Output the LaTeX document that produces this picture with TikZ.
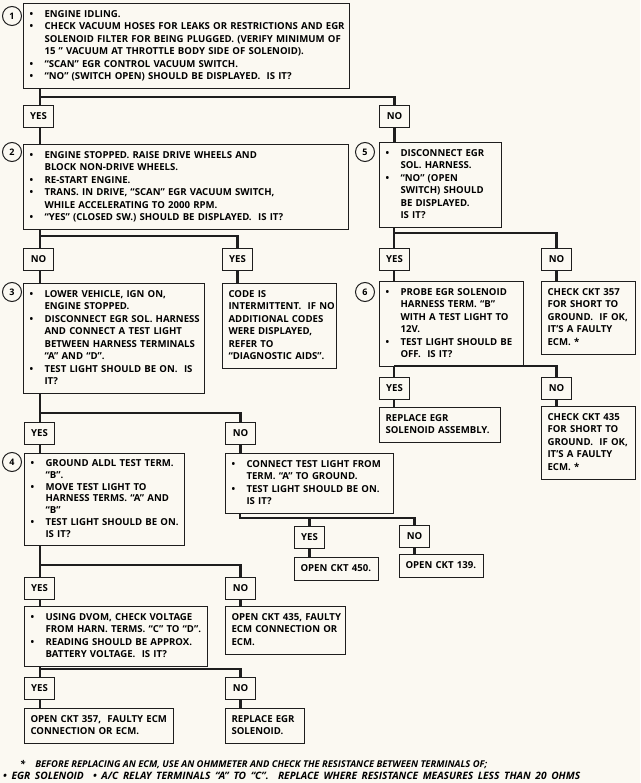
\documentclass[tikz,border=0pt]{standalone}
\usepackage{fontspec}
\setmainfont{Open Sans}
\usetikzlibrary{positioning}

\definecolor{ink}{HTML}{1E1E1E}
\definecolor{paper}{HTML}{FBF9F2}

% one printed line each: bullet line, indented line, plain line
\newcommand{\bl}[1]{\mbox{\strut\makebox[15pt][l]{\textbullet}#1}}
\newcommand{\il}[1]{\mbox{\strut\hspace*{15pt}#1}}
\newcommand{\pl}[1]{\mbox{\strut#1}}

\tikzstyle{stepbox} = [rectangle, draw=ink, line width=1.1pt, fill=paper, anchor=north west, inner xsep=6pt, inner ysep=5pt, align=left, font=\bfseries\fontsize{9.6}{12.5}\selectfont]
\tikzstyle{answer} = [rectangle, draw=ink, line width=1.1pt, fill=paper, anchor=north west, minimum width=30pt, minimum height=22pt, inner sep=0pt, font=\bfseries\fontsize{9.6}{12.5}\selectfont]
\tikzstyle{stepnum} = [circle, draw=ink, line width=1pt, fill=paper, minimum size=19pt, inner sep=0pt, font=\bfseries\fontsize{9}{11}\selectfont]
\tikzstyle{link} = [draw=ink, line width=2.6pt]
\tikzstyle{note} = [anchor=base west, inner sep=0pt, font=\bfseries\itshape\fontsize{9.4}{11}\selectfont]

\begin{document}
\begin{tikzpicture}[x=1pt, y=-1pt]
\fill[paper] (0,0) rectangle (640,783);
\useasboundingbox (0,0) rectangle (640,783);

% step 1
\node (idle) [stepbox, text width=314pt] at (23,3) {\bl{ENGINE IDLING.}\\
\bl{CHECK VACUUM HOSES FOR LEAKS OR RESTRICTIONS AND EGR}\\
\il{SOLENOID FILTER FOR BEING PLUGGED. (VERIFY MINIMUM OF}\\
\il{15 ” VACUUM AT THROTTLE BODY SIDE OF SOLENOID).}\\
\bl{“SCAN” EGR CONTROL VACUUM SWITCH.}\\
\bl{“NO” (SWITCH OPEN) SHOULD BE DISPLAYED.\ \ IS IT?}};
\node (n1) [stepnum] at (12,16) {1};
\node (yes1) [answer] at (23,105) {YES};
\node (no1) [answer] at (379,105) {NO};

% step 2 and step 5
\node (stopped) [stepbox, text width=313pt, below=16pt of yes1.south west, anchor=north west] {\bl{ENGINE STOPPED. RAISE DRIVE WHEELS AND}\\
\il{BLOCK NON-DRIVE WHEELS.}\\
\bl{RE-START ENGINE.}\\
\bl{TRANS. IN DRIVE, “SCAN” EGR VACUUM SWITCH,}\\
\il{WHILE ACCELERATING TO 2000 RPM.}\\
\bl{“YES” (CLOSED SW.) SHOULD BE DISPLAYED.\ \ IS IT?}};
\node (n2) [stepnum] at (12,152) {2};
\node (discon) [stepbox, text width=110pt, below=14pt of no1.south west, anchor=north west] {\bl{DISCONNECT EGR}\\
\il{SOL. HARNESS.}\\
\bl{“NO” (OPEN}\\
\il{SWITCH) SHOULD}\\
\il{BE DISPLAYED.}\\
\il{IS IT?}};
\node (n5) [stepnum] at (365,152) {5};

\node (no2) [answer] at (23,248) {NO};
\node (yes2) [answer] at (222,248) {YES};
\node (yes5) [answer] at (379,248) {YES};
\node (no5) [answer] at (541,248) {NO};

% step 3
\node (lower) [stepbox, text width=169pt, below=12pt of no2.south west, anchor=north west] {\bl{LOWER VEHICLE, IGN ON,}\\
\il{ENGINE STOPPED.}\\
\bl{DISCONNECT EGR SOL. HARNESS}\\
\il{AND CONNECT A TEST LIGHT}\\
\il{BETWEEN HARNESS TERMINALS}\\
\il{“A” AND “D”.}\\
\bl{TEST LIGHT SHOULD BE ON.\ \ IS}\\
\il{IT?}};
\node (n3) [stepnum] at (12,292) {3};
\node (code) [stepbox, text width=102pt, below=12pt of yes2.south west, anchor=north west] {\pl{CODE IS}\\
\pl{INTERMITTENT.\ \ IF NO}\\
\pl{ADDITIONAL CODES}\\
\pl{WERE DISPLAYED,}\\
\pl{REFER TO}\\
\pl{“DIAGNOSTIC AIDS”.}};

% step 6
\node (probe) [stepbox, text width=132pt, below=10pt of yes5.south west, anchor=north west] {\bl{PROBE EGR SOLENOID}\\
\il{HARNESS TERM. “B”}\\
\il{WITH A TEST LIGHT TO}\\
\il{12V.}\\
\bl{TEST LIGHT SHOULD BE}\\
\il{OFF.\ \ IS IT?}};
\node (n6) [stepnum] at (365,292) {6};
\node (short357) [stepbox, text width=82pt, below=10pt of no5.south west, anchor=north west] {\pl{CHECK CKT 357}\\
\pl{FOR SHORT TO}\\
\pl{GROUND.\ \ IF OK,}\\
\pl{IT’S A FAULTY}\\
\pl{ECM. *}};

\node (yes6) [answer] at (379,377) {YES};
\node (no6) [answer] at (541,377) {NO};
\node (newasm) [stepbox, text width=109pt, below=7pt of yes6.south west, anchor=north west] {\pl{REPLACE EGR}\\
\pl{SOLENOID ASSEMBLY.}};
\node (short435) [stepbox, text width=82pt, below=6pt of no6.south west, anchor=north west] {\pl{CHECK CKT 435}\\
\pl{FOR SHORT TO}\\
\pl{GROUND.\ \ IF OK,}\\
\pl{IT’S A FAULTY}\\
\pl{ECM. *}};

% step 4
\node (yes3) [answer] at (24,422) {YES};
\node (no3) [answer] at (225,422) {NO};
\node (ground) [stepbox, text width=148pt, font=\bfseries\fontsize{9.6}{11.7}\selectfont, below=8pt of yes3.south west, anchor=north west] {\bl{GROUND ALDL TEST TERM.}\\
\il{“B”.}\\
\bl{MOVE TEST LIGHT TO}\\
\il{HARNESS TERMS. “A” AND}\\
\il{“B”}\\
\bl{TEST LIGHT SHOULD BE ON.}\\
\il{IS IT?}};
\node (n4) [stepnum] at (12,462) {4};
\node (connect) [stepbox, text width=156pt, below=8pt of no3.south west, anchor=north west] {\bl{CONNECT TEST LIGHT FROM}\\
\il{TERM. “A” TO GROUND.}\\
\bl{TEST LIGHT SHOULD BE ON.}\\
\il{IS IT?}};

\node (yesc) [answer] at (294,526) {YES};
\node (noc) [answer] at (399,525) {NO};
\node (open450) [stepbox, text width=72pt, below=8pt of yesc.south west, anchor=north west] {\pl{OPEN CKT 450.}};
\node (open139) [stepbox, text width=72pt, below=6pt of noc.south west, anchor=north west] {\pl{OPEN CKT 139.}};

% voltage check
\node (yes4) [answer] at (24,577) {YES};
\node (no4) [answer] at (225,577) {NO};
\node (dvom) [stepbox, text width=171pt, below=6pt of yes4.south west, anchor=north west] {\bl{USING DVOM, CHECK VOLTAGE}\\
\il{FROM HARN. TERMS. “C” TO “D”.}\\
\bl{READING SHOULD BE APPROX.}\\
\il{BATTERY VOLTAGE.\ \ IS IT?}};
\node (open435) [stepbox, text width=108pt, below=6pt of no4.south west, anchor=north west] {\pl{OPEN CKT 435, FAULTY}\\
\pl{ECM CONNECTION OR}\\
\pl{ECM.}};

\node (yesd) [answer] at (24,677) {YES};
\node (nod) [answer] at (225,677) {NO};
\node (open357) [stepbox, text width=137pt, below=8pt of yesd.south west, anchor=north west] {\pl{OPEN CKT 357,\ \ FAULTY ECM}\\
\pl{CONNECTION OR ECM.}};
\node (newsol) [stepbox, text width=67pt, below=8pt of nod.south west, anchor=north west] {\pl{REPLACE EGR}\\
\pl{SOLENOID.}};

% footnote
\node (note1) [note] at (20,767) {*\hspace{10pt}\makebox[452pt][s]{BEFORE REPLACING AN ECM, USE AN OHMMETER AND CHECK THE RESISTANCE BETWEEN TERMINALS OF;}};
\node (note2) [note, font=\bfseries\itshape\fontsize{10.2}{11}\selectfont] at (3,779) {\makebox[577pt][s]{\textbullet\ EGR SOLENOID \ \textbullet\ A/C RELAY TERMINALS “A” TO “C”.\ \ REPLACE WHERE RESISTANCE MEASURES LESS THAN 20 OHMS}};

% split points
\coordinate (s1) at (40,97);
\coordinate (s2) at (40,236);
\coordinate (s5) at (394,233);
\coordinate (s3) at (40,413);
\coordinate (s6) at (394,366);
\coordinate (sc) at (240,518);
\coordinate (s4) at (40,565);
\coordinate (sd) at (40,669);

\draw [link] (idle.south -| s1) -- (yes1.north -| s1);
\draw [link] (s1) -| (no1.north);
\draw [link] (yes1.south -| s1) -- (stopped.north -| s1);
\draw [link] (no1.south) -- (discon.north -| no1);

\draw [link] (stopped.south -| s2) -- (no2.north -| s2);
\draw [link] (s2) -| (yes2.north);
\draw [link] (no2.south -| s2) -- (lower.north -| s2);
\draw [link] (yes2.south) -- (code.north -| yes2);

\draw [link] (discon.south -| s5) -- (yes5.north -| s5);
\draw [link] (s5) -| (no5.north);
\draw [link] (yes5.south -| s5) -- (probe.north -| s5);
\draw [link] (no5.south) -- (short357.north -| no5);

\draw [link] (probe.south -| s6) -- (yes6.north -| s6);
\draw [link] (s6) -| (no6.north);
\draw [link] (yes6.south -| s6) -- (newasm.north -| s6);
\draw [link] (no6.south) -- (short435.north -| no6);

\draw [link] (lower.south -| s3) -- (yes3.north -| s3);
\draw [link] (s3) -| (no3.north);
\draw [link] (yes3.south -| s3) -- (ground.north -| s3);
\draw [link] (no3.south) -- (connect.north -| no3);

\draw [link] (connect.south -| sc) -- (sc) -| (noc.north);
\draw [link] (yesc.north |- sc) -- (yesc.north);
\draw [link] (yesc.south) -- (open450.north -| yesc);
\draw [link] (noc.south) -- (open139.north -| noc);

\draw [link] (ground.south -| s4) -- (yes4.north -| s4);
\draw [link] (s4) -| (no4.north);
\draw [link] (yes4.south -| s4) -- (dvom.north -| s4);
\draw [link] (no4.south) -- (open435.north -| no4);

\draw [link] (dvom.south -| sd) -- (yesd.north -| sd);
\draw [link] (sd) -| (nod.north);
\draw [link] (yesd.south -| sd) -- (open357.north -| sd);
\draw [link] (nod.south) -- (newsol.north -| nod);

\end{tikzpicture}
\end{document}
